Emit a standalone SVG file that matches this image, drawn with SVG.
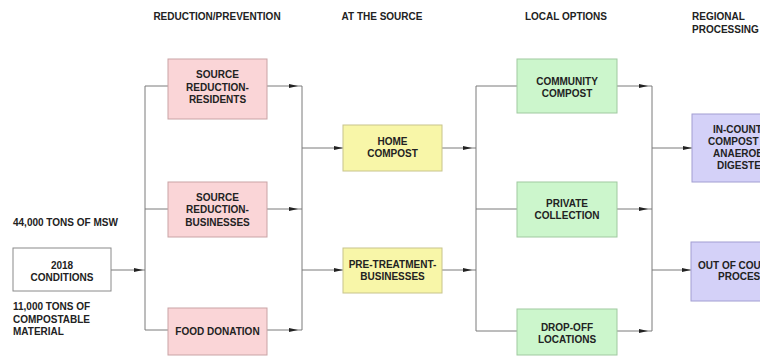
<svg xmlns="http://www.w3.org/2000/svg" width="760" height="358" viewBox="0 0 760 358">
<style>
text{font-family:"Liberation Sans",Arial,sans-serif;font-size:10px;font-weight:bold;fill:#222}
.c{text-anchor:middle}
.pink{fill:#fad5d7;stroke:#c9a3a5;stroke-width:1}
.yel{fill:#f8f6a8;stroke:#c8c48c;stroke-width:1}
.grn{fill:#ccf6cc;stroke:#a0c9a0;stroke-width:1}
.pur{fill:#d4d1f8;stroke:#a29ed2;stroke-width:1}
.wht{fill:#fff;stroke:#8a8a8a;stroke-width:1}
.ln{fill:none;stroke:#7a7a7a;stroke-width:1}
.a{marker-end:url(#ah)}
.m{marker-mid:url(#ah)}
</style>
<defs>
<marker id="ah" markerUnits="userSpaceOnUse" markerWidth="10" markerHeight="5" refX="9" refY="2" orient="auto">
<path d="M0,0 L9,2 L0,4 z" fill="#222"/>
</marker>
</defs>
<rect width="760" height="358" fill="#fff"/>
<g id="headers">
<text class="c" x="217" y="19.5">REDUCTION/PREVENTION</text>
<text class="c" x="382" y="19.5">AT THE SOURCE</text>
<text class="c" x="566" y="19.5">LOCAL OPTIONS</text>
<text x="692" y="19.5">REGIONAL</text>
<text x="692" y="32.5">PROCESSING</text>
</g>
<g id="connectors">
<path class="ln m" d="M111,270 H143 H145"/>
<path class="ln" d="M145,86 V330"/>
<path class="ln" d="M145,86 H168 M145,209 H168 M145,330 H168"/>
<path class="ln m" d="M267,86 H298 H302"/>
<path class="ln m" d="M267,209 H298 H302"/>
<path class="ln m" d="M267,330 H298 H302"/>
<path class="ln" d="M302,86 V330"/>
<path class="ln a" d="M302,148 H343"/>
<path class="ln a" d="M302,270 H343"/>
<path class="ln m" d="M442,148 H472 H476"/>
<path class="ln m" d="M442,270 H472 H476"/>
<path class="ln" d="M476,86 V331"/>
<path class="ln" d="M476,86 H517 M476,209 H517 M476,331 H517"/>
<path class="ln m" d="M617,86 H648 H652"/>
<path class="ln m" d="M617,209 H648 H652"/>
<path class="ln m" d="M617,331 H648 H652"/>
<path class="ln" d="M652,86 V331"/>
<path class="ln a" d="M652,148 H692"/>
<path class="ln a" d="M652,270 H691"/>
</g>
<g id="msw-label"><text x="13" y="225.5">44,000 TONS OF MSW</text></g>
<g id="conditions-2018">
<rect class="wht" x="13" y="248" width="98" height="43"/>
<text class="c" x="62" y="268.5">2018</text>
<text class="c" x="62" y="280.5">CONDITIONS</text>
</g>
<g id="compostable-label">
<text x="13" y="309.5">11,000 TONS OF</text>
<text x="13" y="322.5">COMPOSTABLE</text>
<text x="13" y="335">MATERIAL</text>
</g>
<g id="source-reduction-residents">
<rect class="pink" x="168" y="59" width="99" height="60"/>
<text class="c" x="217.5" y="78">SOURCE</text>
<text class="c" x="217.5" y="90.5">REDUCTION-</text>
<text class="c" x="217.5" y="103">RESIDENTS</text>
</g>
<g id="source-reduction-businesses">
<rect class="pink" x="168" y="182" width="99" height="55"/>
<text class="c" x="217.5" y="200.5">SOURCE</text>
<text class="c" x="217.5" y="213">REDUCTION-</text>
<text class="c" x="217.5" y="225.5">BUSINESSES</text>
</g>
<g id="food-donation">
<rect class="pink" x="168" y="308" width="99" height="47"/>
<text class="c" x="217.5" y="335">FOOD DONATION</text>
</g>
<g id="home-compost">
<rect class="yel" x="343" y="125" width="99" height="46"/>
<text class="c" x="392.5" y="144.5">HOME</text>
<text class="c" x="392.5" y="156.5">COMPOST</text>
</g>
<g id="pre-treatment">
<rect class="yel" x="343" y="248" width="99" height="45"/>
<text class="c" x="392.5" y="268">PRE-TREATMENT-</text>
<text class="c" x="392.5" y="280">BUSINESSES</text>
</g>
<g id="community-compost">
<rect class="grn" x="517" y="59" width="100" height="54"/>
<text class="c" x="567" y="84.5">COMMUNITY</text>
<text class="c" x="567" y="96.5">COMPOST</text>
</g>
<g id="private-collection">
<rect class="grn" x="517" y="182" width="100" height="55"/>
<text class="c" x="567" y="206.5">PRIVATE</text>
<text class="c" x="567" y="219">COLLECTION</text>
</g>
<g id="drop-off">
<rect class="grn" x="517" y="309" width="100" height="46"/>
<text class="c" x="567" y="330.5">DROP-OFF</text>
<text class="c" x="567" y="342.5">LOCATIONS</text>
</g>
<g id="in-county">
<rect class="pur" x="692" y="114" width="110" height="68"/>
<text x="713" y="133">IN-COUNTY</text>
<text x="708" y="145">COMPOST OR</text>
<text x="713" y="157">ANAEROBIC</text>
<text x="717" y="169">DIGESTER</text>
</g>
<g id="out-of-county">
<rect class="pur" x="691" y="242" width="110" height="59"/>
<text x="698" y="268.5">OUT OF COUNTY</text>
<text x="718" y="280">PROCESSING</text>
</g>
</svg>
